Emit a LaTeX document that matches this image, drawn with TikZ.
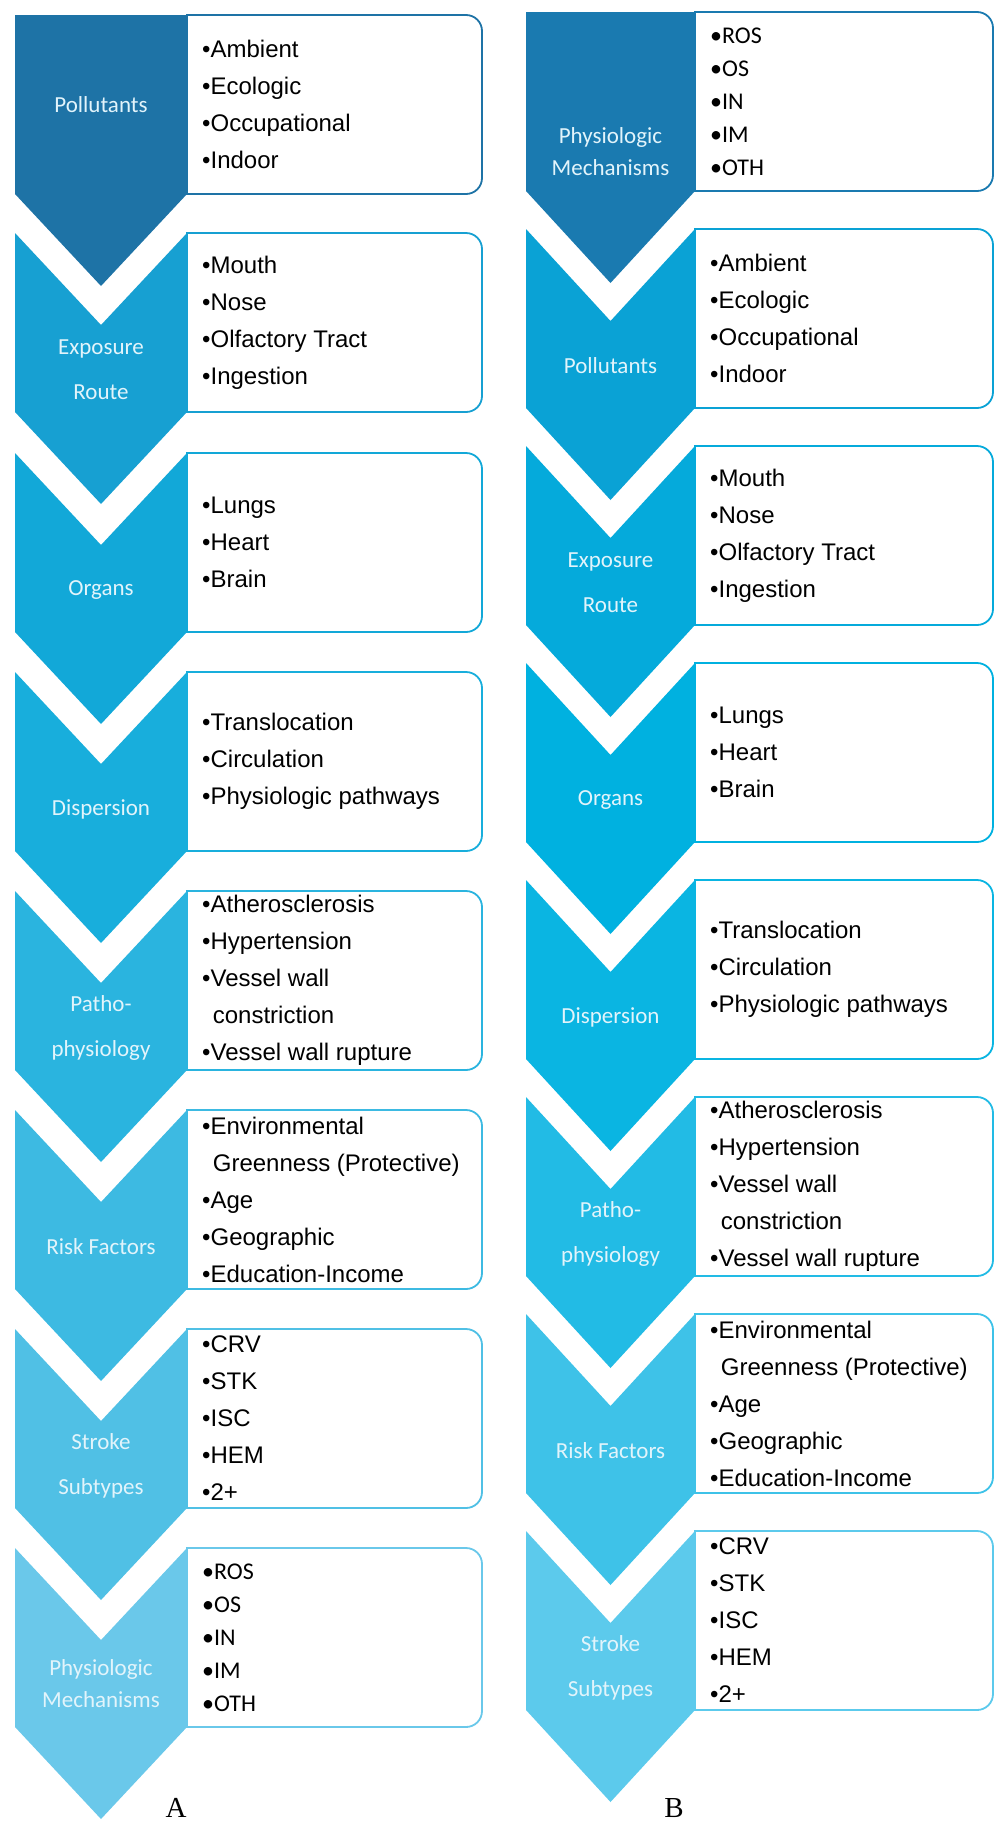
\documentclass[tikz,border=0pt]{standalone}
\usepackage{fontspec}
\setmainfont{Carlito}
\newfontfamily\serifA{Liberation Serif}
\newfontfamily\listf{Liberation Sans}
\begin{document}
\begin{tikzpicture}[x=1pt,y=-1pt,
 box/.style={draw=#1,line width=1.8pt,fill=white},
 lst/.style={anchor=west,align=left,font=\listf\fontsize{24}{37}\selectfont,inner sep=0pt},
 lstc/.style={lst,font=\fontsize{24}{33}\selectfont},
 lab/.style={text=labc,align=center,font=\fontsize{23}{45}\selectfont,inner sep=0pt},
 labc/.style={lab,font=\fontsize{23}{32}\selectfont}]
\definecolor{labc}{HTML}{E2F4FB}
\useasboundingbox (0,0) rectangle (1004,1837);
\def\H{179}\def\D{92}
% #1 top, #2 color, #3 first?, #4 label offset, #5 label, #6 items, #7 name, #8 compact?
\newcommand\rowA[8]{%
 \draw[box=#2] (\X+\W,#1) [rounded corners=16pt] -- (\R,#1) -- (\R,#1+\H) [sharp corners] -- (\X+\W,#1+\H) -- cycle;
 \ifnum#3=1
 \fill[#2] (\X,#1) -- (\X+\W,#1) -- (\X+\W,#1+\H) -- (\X+\W/2,#1+\H+\D) -- (\X,#1+\H) -- cycle;
 \else
 \fill[#2] (\X,#1) -- (\X+\W/2,#1+\D) -- (\X+\W,#1) -- (\X+\W,#1+\H) -- (\X+\W/2,#1+\H+\D) -- (\X,#1+\H) -- cycle;
 \fi
 \ifnum#8=1
 \node[labc] (#7l) at (\X+\W/2,#1+#4) {#5};
 \node[lstc] (#7t) at (\X+\W+15,#1+\H/2) {#6};
 \else
 \node[lab] (#7l) at (\X+\W/2,#1+#4) {#5};
 \node[lst] (#7t) at (\X+\W+15,#1+\H/2) {#6};
 \fi
}
\definecolor{a1}{HTML}{1E73A6}\definecolor{a2}{HTML}{17A0D2}\definecolor{a3}{HTML}{12A8D8}
\definecolor{a4}{HTML}{18AEDC}\definecolor{a5}{HTML}{2AB4DF}\definecolor{a6}{HTML}{3DBAE2}
\definecolor{a7}{HTML}{50C0E5}\definecolor{a8}{HTML}{6AC8EA}
\definecolor{b1}{HTML}{1A7AB0}\definecolor{b2}{HTML}{0AA2D5}\definecolor{b3}{HTML}{05AADB}
\definecolor{b4}{HTML}{00B1E0}\definecolor{b5}{HTML}{0AB5E2}\definecolor{b6}{HTML}{22BBE5}
\definecolor{b7}{HTML}{3EC2E8}\definecolor{b8}{HTML}{5CCAEC}
% Column A
\def\X{15}\def\W{172}\def\R{482}
\rowA{15}{a1}{1}{90}{Pollutants}{•Ambient\\•Ecologic\\•Occupational\\•Indoor}{A1}{0}
\rowA{233}{a2}{0}{137}{Exposure\\Route}{•Mouth\\•Nose\\•Olfactory Tract\\•Ingestion}{A2}{0}
\rowA{453}{a3}{0}{137}{Organs}{•Lungs\\•Heart\\•Brain}{A3}{0}
\rowA{672}{a4}{0}{137}{Dispersion}{•Translocation\\•Circulation\\•Physiologic pathways}{A4}{0}
\rowA{891}{a5}{0}{137}{Patho-\\physiology}{•Atherosclerosis\\•Hypertension\\•Vessel wall\\\ \,constriction\\•Vessel wall rupture}{A5}{0}
\rowA{1110}{a6}{0}{137}{Risk Factors}{•Environmental\\\ \,Greenness (Protective)\\•Age\\•Geographic\\•Education-Income}{A6}{0}
\rowA{1329}{a7}{0}{137}{Stroke\\Subtypes}{•CRV\\•STK\\•ISC\\•HEM\\•2+}{A7}{0}
\rowA{1548}{a8}{0}{136}{Physiologic\\Mechanisms}{•ROS\\•OS\\•IN\\•IM\\•OTH}{A8}{1}
% Column B
\def\X{526}\def\W{169}\def\R{993}
\rowA{12}{b1}{1}{140}{Physiologic\\Mechanisms}{•ROS\\•OS\\•IN\\•IM\\•OTH}{B1}{1}
\rowA{229}{b2}{0}{137}{Pollutants}{•Ambient\\•Ecologic\\•Occupational\\•Indoor}{B2}{0}
\rowA{446}{b3}{0}{137}{Exposure\\Route}{•Mouth\\•Nose\\•Olfactory Tract\\•Ingestion}{B3}{0}
\rowA{663}{b4}{0}{137}{Organs}{•Lungs\\•Heart\\•Brain}{B4}{0}
\rowA{880}{b5}{0}{137}{Dispersion}{•Translocation\\•Circulation\\•Physiologic pathways}{B5}{0}
\rowA{1097}{b6}{0}{137}{Patho-\\physiology}{•Atherosclerosis\\•Hypertension\\•Vessel wall\\\ \,constriction\\•Vessel wall rupture}{B6}{0}
\rowA{1314}{b7}{0}{137}{Risk Factors}{•Environmental\\\ \,Greenness (Protective)\\•Age\\•Geographic\\•Education-Income}{B7}{0}
\rowA{1531}{b8}{0}{137}{Stroke\\Subtypes}{•CRV\\•STK\\•ISC\\•HEM\\•2+}{B8}{0}
\node[font=\serifA\fontsize{29}{32}\selectfont] (la) at (176,1808) {A};
\node[font=\serifA\fontsize{29}{32}\selectfont] (lb) at (674,1808) {B};
\end{tikzpicture}
\end{document}
